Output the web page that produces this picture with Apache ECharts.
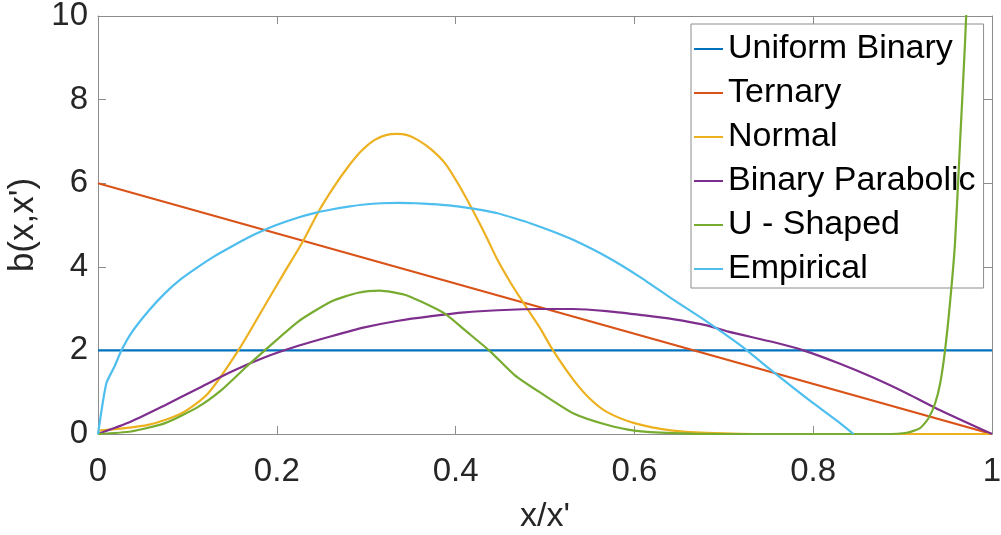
<!DOCTYPE html>
<html>
<head>
<meta charset="utf-8">
<script src="https://cdn.jsdelivr.net/npm/echarts@6/dist/echarts.min.js"></script>
<style>
html,body{margin:0;padding:0;background:#fff;}
#chart{width:1001px;height:535px;}
</style>
</head>
<body>
<div id="chart"></div>
<script>
var seriesNames = ['Uniform Binary', 'Ternary', 'Normal', 'Binary Parabolic', 'U - Shaped', 'Empirical'];
var xTickLabels = ['0', '0.2', '0.4', '0.6', '0.8', '1'];
var yTickLabels = ['0', '2', '4', '6', '8', '10'];

var uniformX = [0, 1];
var uniformY = [2, 2];

var ternaryX = [0, 1];
var ternaryY = [6, 0];

var normalX = [0, 0.056, 0.093, 0.123, 0.157, 0.186, 0.208, 0.229, 0.248, 0.265, 0.28, 0.295, 0.309, 0.322, 0.334, 0.346, 0.358, 0.372, 0.388, 0.403, 0.418, 0.433, 0.447, 0.462, 0.477, 0.494, 0.509, 0.532, 0.55, 0.569, 0.6, 0.643, 0.681, 0.75, 1];
var normalY = [0.08, 0.22, 0.49, 0.97, 2.0, 3.05, 3.85, 4.6, 5.37, 5.95, 6.4, 6.78, 7.03, 7.15, 7.18, 7.15, 7.03, 6.82, 6.48, 5.98, 5.4, 4.78, 4.16, 3.6, 3.1, 2.55, 2.0, 1.29, 0.85, 0.53, 0.26, 0.08, 0.03, 0, 0];

var parabolicX = [0, 0.037, 0.075, 0.112, 0.149, 0.186, 0.224, 0.261, 0.298, 0.336, 0.373, 0.41, 0.447, 0.494, 0.532, 0.569, 0.606, 0.643, 0.681, 0.705, 0.755, 0.789, 0.83, 0.867, 0.905, 0.942, 1];
var parabolicY = [0, 0.30, 0.69, 1.09, 1.49, 1.83, 2.11, 2.34, 2.55, 2.71, 2.82, 2.91, 2.96, 2.99, 2.99, 2.94, 2.85, 2.75, 2.6, 2.45, 2.2, 2.0, 1.68, 1.35, 0.97, 0.57, 0];

var uShapedX = [0, 0.037, 0.075, 0.112, 0.138, 0.166, 0.186, 0.224, 0.261, 0.291, 0.315, 0.343, 0.373, 0.39, 0.41, 0.438, 0.466, 0.494, 0.532, 0.569, 0.6, 0.643, 0.7, 0.8, 0.88, 0.9046, 0.9195, 0.9288, 0.9363, 0.942, 0.9474, 0.953, 0.9586, 0.9642, 0.9698, 0.975, 0.98];
var uShapedY = [0, 0.06, 0.26, 0.65, 1.05, 1.61, 1.99, 2.69, 3.17, 3.38, 3.43, 3.33, 3.05, 2.85, 2.49, 1.99, 1.41, 1.0, 0.49, 0.22, 0.08, 0.02, 0, 0, 0, 0.03, 0.14, 0.37, 0.73, 1.21, 1.99, 3.13, 4.56, 6.95, 9.35, 12, 15];

var empiricalX = [0, 0.0093, 0.0186, 0.026, 0.037, 0.056, 0.075, 0.093, 0.112, 0.13, 0.149, 0.167, 0.186, 0.205, 0.224, 0.243, 0.261, 0.28, 0.298, 0.317, 0.336, 0.355, 0.373, 0.392, 0.41, 0.428, 0.447, 0.466, 0.485, 0.508, 0.532, 0.569, 0.606, 0.643, 0.681, 0.718, 0.755, 0.793, 0.83, 0.845];
var empiricalY = [0, 1.21, 1.62, 1.99, 2.41, 2.93, 3.37, 3.71, 4.0, 4.25, 4.48, 4.69, 4.88, 5.04, 5.18, 5.29, 5.37, 5.44, 5.49, 5.52, 5.53, 5.52, 5.5, 5.47, 5.42, 5.36, 5.28, 5.16, 5.03, 4.85, 4.64, 4.24, 3.76, 3.22, 2.69, 2.13, 1.49, 0.85, 0.26, 0];

var colors = ['#0072BD', '#D95319', '#EDB120', '#7E2F8E', '#77AC30', '#4DBEEE'];

function pairs(xs, ys) { return xs.map(function (x, i) { return [x, ys[i]]; }); }

var seriesData = [
  pairs(uniformX, uniformY),
  pairs(ternaryX, ternaryY),
  pairs(normalX, normalY),
  pairs(parabolicX, parabolicY),
  pairs(uShapedX, uShapedY),
  pairs(empiricalX, empiricalY)
];
var smoothing = [false, false, 0.25, 0.25, 0.2, 0.2];

var FONT = 'Liberation Sans';
var TXT = '#262626';
var AX = '#8c8c8c';

function axisCommon(extra) {
  var base = {
    type: 'value',
    axisLine: { show: true, onZero: false, lineStyle: { color: AX, width: 1 } },
    axisTick: { show: true, inside: true, length: 8, lineStyle: { color: AX, width: 1 } },
    splitLine: { show: false }
  };
  for (var k in extra) base[k] = extra[k];
  return base;
}

var chart = echarts.init(document.getElementById('chart'), null, { renderer: 'canvas' });
chart.setOption({
  backgroundColor: '#ffffff',
  animation: false,
  color: colors,
  textStyle: { fontFamily: FONT },
  grid: { left: 98, right: 9, top: 16, bottom: 101, containLabel: false, outerBoundsMode: 'none' },
  legend: {
    orient: 'vertical',
    left: 691,
    top: 24,
    data: seriesNames,
    icon: 'rect',
    itemWidth: 29,
    itemHeight: 2,
    itemGap: 10,
    padding: [8, 8, 2, 3],
    backgroundColor: '#ffffff',
    borderColor: '#8c8c8c',
    borderWidth: 1,
    selectedMode: false,
    textStyle: { fontFamily: FONT, fontSize: 34, color: '#000000', padding: [0, 0, 0, 0] }
  },
  xAxis: [
    axisCommon({
      min: 0, max: 1, interval: 0.2, position: 'bottom',
      name: "x/x'", nameLocation: 'middle', nameGap: 66,
      nameTextStyle: { fontFamily: FONT, fontSize: 34, color: TXT },
      axisLabel: {
        show: true, margin: 21, fontFamily: FONT, fontSize: 33, color: TXT,
        formatter: function (v) { return xTickLabels[Math.round(v / 0.2)]; }
      }
    }),
    axisCommon({ min: 0, max: 1, interval: 0.2, position: 'top', axisLabel: { show: false } })
  ],
  yAxis: [
    axisCommon({
      min: 0, max: 10, interval: 2, position: 'left',
      name: "b(x,x')", nameLocation: 'middle', nameGap: 36, nameRotate: 90,
      nameTextStyle: { fontFamily: FONT, fontSize: 35, color: TXT },
      axisLabel: {
        show: true, margin: 10, fontFamily: FONT, fontSize: 33, color: TXT,
        formatter: function (v) { return yTickLabels[Math.round(v / 2)]; }
      }
    }),
    axisCommon({ min: 0, max: 10, interval: 2, position: 'right', axisLabel: { show: false } })
  ],
  series: seriesNames.map(function (name, i) {
    return {
      name: name,
      type: 'line',
      xAxisIndex: 0,
      yAxisIndex: 0,
      data: seriesData[i],
      smooth: smoothing[i],
      showSymbol: false,
      symbol: 'none',
      clip: true,
      lineStyle: { color: colors[i], width: 2.2 },
      itemStyle: { color: colors[i] },
      z: 2 + i
    };
  })
});
</script>
</body>
</html>
